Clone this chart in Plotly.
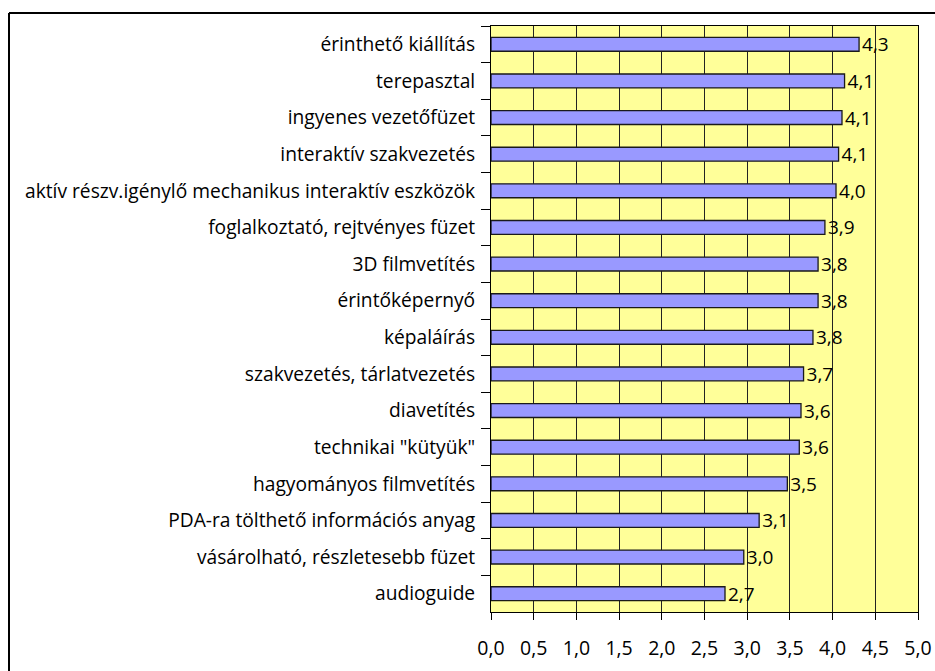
import plotly.graph_objects as go

# Survey items (top to bottom) and their mean ratings
categories = [
    "érinthető kiállítás",
    "terepasztal",
    "ingyenes vezetőfüzet",
    "interaktív szakvezetés",
    "aktív részv.igénylő mechanikus interaktív eszközök",
    "foglalkoztató, rejtvényes füzet",
    "3D filmvetítés",
    "érintőképernyő",
    "képaláírás",
    "szakvezetés, tárlatvezetés",
    "diavetítés",
    "technikai \"kütyük\"",
    "hagyományos filmvetítés",
    "PDA-ra tölthető információs anyag",
    "vásárolható, részletesebb füzet",
    "audioguide",
]
values = [4.31, 4.14, 4.11, 4.07, 4.04, 3.91, 3.83, 3.83, 3.77,
          3.66, 3.63, 3.61, 3.47, 3.14, 2.96, 2.74]

x_ticks = [0, 0.5, 1, 1.5, 2, 2.5, 3, 3.5, 4, 4.5, 5]

W, H = 935, 671
ML, MR, MT, MB = 491, 17, 26, 59
pw = W - ML - MR
ph = H - MT - MB

FONT = "'Open Sans', Lato, sans-serif"

fig = go.Figure(
    go.Bar(
        x=values,
        y=categories,
        orientation="h",
        marker=dict(color="#9999FF", line=dict(color="#1a1a1a", width=1.3)),
        texttemplate="%{x:.1f}",
        textposition="outside",
        constraintext="none",
        textfont=dict(family=FONT, size=19, color="#000"),
        cliponaxis=False,
    )
)

fig.update_layout(
    width=W,
    height=H,
    margin=dict(l=ML, r=MR, t=MT, b=MB, autoexpand=False),
    paper_bgcolor="white",
    plot_bgcolor="#FFFF99",
    separators=", ",
    bargap=0.62,
    showlegend=False,
    font=dict(family=FONT, size=16, color="#000"),
)

fig.update_xaxes(
    range=[0, 5],
    tickvals=x_ticks,
    tickformat=".1f",
    showgrid=True,
    gridcolor="#222",
    gridwidth=1,
    showline=True,
    linecolor="#000",
    linewidth=1,
    mirror=True,
    ticks="outside",
    ticklen=7,
    tickcolor="#000",
    ticklabelstandoff=12,
    tickfont=dict(family=FONT, size=19.5),
    zeroline=False,
    automargin=False,
)

fig.update_yaxes(
    autorange="reversed",
    showline=True,
    linecolor="#000",
    linewidth=1,
    mirror=True,
    ticks="outside",
    ticklen=9,
    tickcolor="#000",
    tickson="boundaries",
    ticklabelstandoff=11,
    tickfont=dict(family=FONT, size=19.2),
    automargin=False,
)

# Chart-area frame: left and top edges (the other two run past the page)
def px_to_paper_x(px):
    return (px - ML) / pw

def px_to_paper_y(py):
    return (H - MB - py) / ph

fx0, fy0 = px_to_paper_x(9), px_to_paper_y(13)
fx1, fy1 = px_to_paper_x(W), px_to_paper_y(H)
fig.add_shape(type="line", xref="paper", yref="paper",
              x0=fx0, y0=fy0, x1=fx1, y1=fy0,
              line=dict(color="#000", width=2), layer="above")
fig.add_shape(type="line", xref="paper", yref="paper",
              x0=fx0, y0=fy0, x1=fx0, y1=fy1,
              line=dict(color="#000", width=2), layer="above")

fig.write_html("out.html")
